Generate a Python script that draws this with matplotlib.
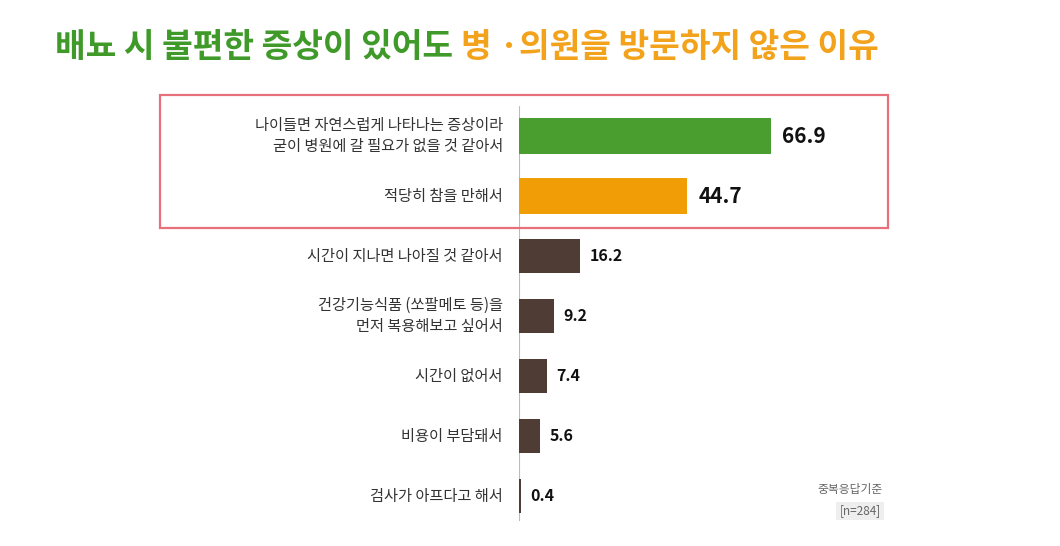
import matplotlib.pyplot as plt
from matplotlib.patches import Rectangle

plt.rcParams["font.family"] = ["Noto Sans CJK KR", "Noto Sans CJK JP",
                               "Noto Sans CJK SC", "DejaVu Sans"]

labels = [
    "나이들면 자연스럽게 나타나는 증상이라\n굳이 병원에 갈 필요가 없을 것 같아서",
    "적당히 참을 만해서",
    "시간이 지나면 나아질 것 같아서",
    "건강기능식품 (쏘팔메토 등)을\n먼저 복용해보고 싶어서",
    "시간이 없어서",
    "비용이 부담돼서",
    "검사가 아프다고 해서",
]
values = [66.9, 44.7, 16.2, 9.2, 7.4, 5.6, 0.4]
colors = ["#4a9e2f", "#f09d06"] + ["#4f3c35"] * 5

fig = plt.figure(figsize=(10.6, 5.46), dpi=100)
ax = fig.add_axes([519 / 1060, 1 - 526 / 546, 369 / 1060, 420 / 546])
ys = list(range(len(values)))
heights = [0.6, 0.6, 0.57, 0.57, 0.57, 0.57, 0.57]
ax.barh(ys, values, color=colors, height=heights)
ax.set_ylim(len(values) - 0.5, -0.5)
ax.set_xlim(0, 98)
ax.axis("off")
ax.plot([0, 0], [-0.5, 6.4], color="#bbbbbb", lw=0.8, zorder=0)

for i, (lab, v) in enumerate(zip(labels, values)):
    ax.text(-4.3, i, lab, ha="right", va="center", fontsize=11, color="#333333",
            linespacing=1.35)
    big = i < 2
    ax.text(v + (3 if big else 2.5), i, f"{v:.1f}", ha="left", va="center",
            fontsize=15 if big else 11.5, fontweight="bold", color="#111111")

fig.patches.append(Rectangle((160 / 1060, 1 - 228 / 546), 728 / 1060, 133 / 546,
                             transform=fig.transFigure, fill=False,
                             edgecolor="#e8707a", lw=1.6))

t1 = fig.text(55 / 1060, 1 - 64 / 546, "배뇨 시 불편한 증상이 있어도 ", fontsize=24,
              fontweight="bold", color="#3f9a2a", ha="left", va="bottom")
fig.canvas.draw()
ax.annotate("병 ·의원을 방문하지 않은 이유", xy=(1, 0), xycoords=t1, fontsize=24,
            fontweight="bold", color="#f3a21b", ha="left", va="bottom",
            annotation_clip=False)

fig.text(850 / 1060, 1 - 489 / 546, "중복응답기준", fontsize=8.5, color="#666666",
         ha="center", va="center")
fig.text(860 / 1060, 1 - 511 / 546, "[n=284]", fontsize=8.5, color="#666666",
         ha="center", va="center",
         bbox=dict(boxstyle="square,pad=0.25", fc="#eeeeee", ec="none"))

fig.savefig("out.png", dpi=100)
